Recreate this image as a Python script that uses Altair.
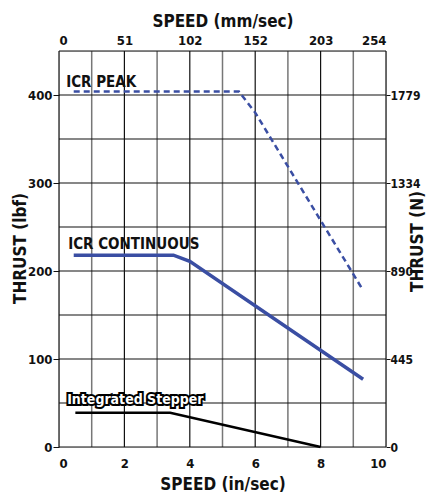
import altair as alt
import pandas as pd

FONT = "'DejaVu Sans Condensed', 'Roboto Condensed', 'Arial Narrow', Roboto, sans-serif"

# Series data (x = speed in/sec, y = thrust lbf)
peak_x = [0.45, 5.5, 6.0, 9.3]
peak_y = [404, 404, 380, 178]
cont_x = [0.45, 3.5, 4.0, 9.3]
cont_y = [218, 218, 211, 77]
step_x = [0.5, 3.4, 8.0]
step_y = [39, 39, 0]

# Labels
lab_text = ["ICR PEAK", "ICR CONTINUOUS"]
lab_x = [0.22, 0.28]
lab_y = [415, 231]
step_lab = ["Integrated Stepper"]
step_lab_x = [0.25]
step_lab_y = [53]

# Grid
vgrid_x = list(range(0, 11))
vgrid_major = [True, False, True, False, True, False, True, False, True, False, True]
hgrid_y = list(range(0, 451, 50))

x_ticks = [0, 2, 4, 6, 8, 10]
y_ticks = [0, 100, 200, 300, 400]

BLUE = "#3a4ea3"
xs = alt.Scale(domain=[0, 10], nice=False)
ys = alt.Scale(domain=[0, 450], nice=False)

vg = pd.DataFrame({"x": vgrid_x, "major": vgrid_major})
hg = pd.DataFrame({"y": hgrid_y})

LBL = dict(labelFont=FONT, labelFontSize=13, labelFontWeight="bold", labelColor="#111")
TTL = dict(titleFont=FONT, titleFontSize=17, titleFontWeight="bold", titleColor="#111")

vmajor = alt.Chart(vg[vg.major]).mark_rule(color="#111", strokeWidth=1.2).encode(
    x=alt.X("x:Q", scale=xs,
            axis=alt.Axis(orient="bottom", values=x_ticks, title="SPEED (in/sec)",
                          grid=False, ticks=False, domain=False, format="d",
                          labelPadding=10, titlePadding=6, **LBL, **TTL)),
    y=alt.value(0), y2=alt.value(396))
vminor = alt.Chart(vg[~vg.major]).mark_rule(color="#777", strokeWidth=1.5).encode(
    x=alt.X("x:Q", scale=xs,
            axis=alt.Axis(orient="top", values=x_ticks, title="SPEED (mm/sec)",
                          grid=False, ticks=False, domain=False,
                          labelExpr="format(round(datum.value*25.4),'d')",
                          labelPadding=4, titlePadding=4, **LBL, **TTL)),
    y=alt.value(0), y2=alt.value(396))

hrules = alt.Chart(hg).mark_rule(color="#111", strokeWidth=1.2).encode(
    y=alt.Y("y:Q", scale=ys,
            axis=alt.Axis(orient="left", values=y_ticks, title="THRUST (lbf)",
                          grid=False, ticks=True, tickSize=6, tickColor="#111", domain=False,
                          format="d", labelPadding=1,
                          titleX=-39, titleY=197, titleAngle=270,
                          titleAlign="center", titleBaseline="middle", **LBL, **TTL)),
    x=alt.value(0), x2=alt.value(327))

RLBL = dict(LBL, labelFontSize=12)
peak = alt.Chart(pd.DataFrame({"x": peak_x, "y": peak_y})).mark_line(
    color=BLUE, strokeWidth=2.5, strokeDash=[6, 4]).encode(
    x=alt.X("x:Q", scale=xs, axis=None),
    y=alt.Y("y:Q", scale=ys,
            axis=alt.Axis(orient="right", values=y_ticks, title="THRUST (N)",
                          grid=False, ticks=True, tickSize=4, tickColor="#111", domain=False,
                          labelExpr="format(round(datum.value*4.44822),'d')",
                          labelPadding=0, titleAngle=270,
                          titleX=31.5, titleY=190, titleAlign="center", titleBaseline="middle",
                          **RLBL, **TTL)))
cont = alt.Chart(pd.DataFrame({"x": cont_x, "y": cont_y})).mark_line(
    color=BLUE, strokeWidth=3.5).encode(
    x=alt.X("x:Q", scale=xs, axis=None), y=alt.Y("y:Q", scale=ys, axis=None))
step = alt.Chart(pd.DataFrame({"x": step_x, "y": step_y})).mark_line(
    color="#000", strokeWidth=2.5).encode(
    x=alt.X("x:Q", scale=xs, axis=None), y=alt.Y("y:Q", scale=ys, axis=None))

labs = alt.Chart(pd.DataFrame({"t": lab_text, "x": lab_x, "y": lab_y})).mark_text(
    font=FONT, fontSize=15, fontWeight="bold", color="#111", align="left", baseline="middle").encode(
    x=alt.X("x:Q", scale=xs, axis=None), y=alt.Y("y:Q", scale=ys, axis=None), text="t:N")
sdf = pd.DataFrame({"t": step_lab, "x": step_lab_x, "y": step_lab_y})
slab_halo = alt.Chart(sdf).mark_text(
    font=FONT, fontSize=14, fontWeight="bold", color="#000", stroke="#000", strokeWidth=4,
    align="left", baseline="middle").encode(
    x=alt.X("x:Q", scale=xs, axis=None), y=alt.Y("y:Q", scale=ys, axis=None), text="t:N")
slab = alt.Chart(sdf).mark_text(
    font=FONT, fontSize=14, fontWeight="bold", color="#fff",
    align="left", baseline="middle").encode(
    x=alt.X("x:Q", scale=xs, axis=None), y=alt.Y("y:Q", scale=ys, axis=None), text="t:N")

chart = alt.layer(vminor, vmajor, hrules, peak, cont, step, labs, slab_halo, slab).resolve_axis(
    x="independent", y="independent").properties(
    width=327, height=396,
    autosize=alt.AutoSizeParams(type="none"),
    padding={"left": 51, "top": 43, "right": 40, "bottom": 45},
).configure_view(stroke=None).configure(background="white")

chart.save("out.html", embed_options={"renderer": "svg", "actions": False})
